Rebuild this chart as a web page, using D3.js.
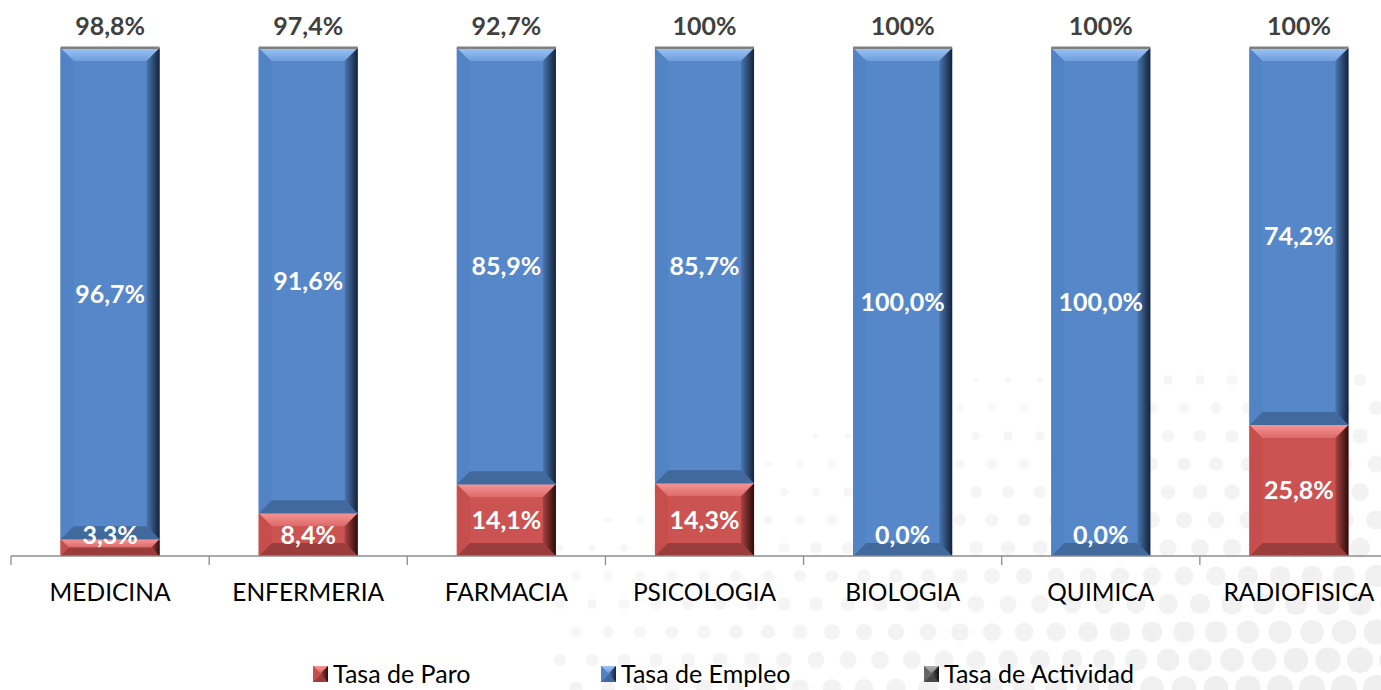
<!DOCTYPE html>
<html><head><meta charset="utf-8">
<script src="https://cdn.jsdelivr.net/npm/d3@7"></script>
<style>body{margin:0;background:#fff}svg{display:block}</style>
</head><body>
<svg id="chart" width="1381" height="690"></svg>
<script>
const categories = ["MEDICINA","ENFERMERIA","FARMACIA","PSICOLOGIA","BIOLOGIA","QUIMICA","RADIOFISICA"];
const tasaParo = [3.3, 8.4, 14.1, 14.3, 0.0, 0.0, 25.8];
const tasaEmpleo = [96.7, 91.6, 85.9, 85.7, 100.0, 100.0, 74.2];
const tasaActividad = ["98,8%","97,4%","92,7%","100%","100%","100%","100%"];
const seriesNames = ["Tasa de Paro","Tasa de Empleo","Tasa de Actividad"];

const svg = d3.select("#chart");
const W = 1381, H = 690;
const defs = svg.append("defs");

// decorative background dots
const bg = svg.append("g");
for (let gy = 380; gy < 720; gy += 28) {
  for (let gx = 560; gx < 1420; gx += 32) {
    const off = ((gy - 380) / 28) % 2 ? 16 : 0;
    const cx = gx + off, cy = gy;
    const t = Math.min(1, Math.max(0, ((cx - 750) / 700) * 0.55 + ((cy - 420) / 280) * 0.6));
    if (t <= 0.08) continue;
    bg.append("circle").attr("cx", cx).attr("cy", cy).attr("r", 2 + 11 * t)
      .attr("fill", "#e6e6e6").attr("opacity", 0.25 + 0.4 * t);
  }
}

const x = d3.scaleBand().domain(categories).range([11, 1398]).paddingInner(0.5).paddingOuter(0.25);
const y = d3.scaleLinear().domain([0, 100]).range([556, 48]);

function grad(id, stops, x2, y2) {
  const g = defs.append("linearGradient").attr("id", id).attr("x1", 0).attr("y1", 0).attr("x2", x2).attr("y2", y2);
  stops.forEach(s => g.append("stop").attr("offset", s[0]).attr("stop-color", s[1]));
}
const pal = {
  empleo: {base: "#5687c9", top: ["#6f9ddb", "#9cc4f5"], right: ["#4a76b0", "#14223a"], bottom: "#41699c", left: "#5283c4"},
  paro:   {base: "#cb5352", top: ["#dc6968", "#f59594"], right: ["#a84240", "#2a0d0c"], bottom: "#9a3d3c", left: "#c64f4e"},
  act:    {base: "#6e6e6e", top: ["#8a8a8a", "#b0b0b0"], right: ["#555", "#111"], bottom: "#474747", left: "#666"}
};
Object.entries(pal).forEach(([k, p]) => {
  grad("top-" + k, [[0, p.top[1]], [1, p.top[0]]], 0, 1);
  grad("right-" + k, [[0, p.right[0]], [1, p.right[1]]], 1, 0);
});

function bevelBar(g, x0, y0, w, h, key) {
  const p = pal[key];
  const b = Math.min(13, h / 2, w / 2);
  const x1 = x0 + w, y1 = y0 + h;
  g.append("rect").attr("x", x0).attr("y", y0).attr("width", w).attr("height", h).attr("fill", p.base);
  g.append("polygon").attr("points", [[x0, y0], [x1, y0], [x1 - b, y0 + b], [x0 + b, y0 + b]].join(" ")).attr("fill", `url(#top-${key})`);
  g.append("polygon").attr("points", [[x0, y1], [x1, y1], [x1 - b, y1 - b], [x0 + b, y1 - b]].join(" ")).attr("fill", p.bottom);
  g.append("polygon").attr("points", [[x0, y0], [x0 + b, y0 + b], [x0 + b, y1 - b], [x0, y1]].join(" ")).attr("fill", p.left);
  g.append("polygon").attr("points", [[x1, y0], [x1 - b, y0 + b], [x1 - b, y1 - b], [x1, y1]].join(" ")).attr("fill", `url(#right-${key})`);
}

const bars = svg.append("g");
categories.forEach((c, i) => {
  const bx = x(c), bw = x.bandwidth();
  const p = tasaParo[i], e = tasaEmpleo[i];
  if (p > 0) bevelBar(bars, bx, y(p), bw, y(0) - y(p), "paro");
  bevelBar(bars, bx, y(p + e), bw, y(p) - y(p + e), "empleo");
  bars.append("rect").attr("x", bx).attr("y", y(100) - 1.5).attr("width", bw).attr("height", 2.5).attr("fill", "#808080");
});

// axis
const axisY = y(0);
svg.append("line").attr("x1", 11).attr("x2", W).attr("y1", axisY).attr("y2", axisY).attr("stroke", "#8c8c8c").attr("stroke-width", 1.3);
const bounds = d3.range(categories.length + 1).map(i => 11 + i * x.step());
bounds.forEach(bx => {
  if (bx <= W) svg.append("line").attr("x1", bx).attr("x2", bx).attr("y1", axisY).attr("y2", axisY + 9).attr("stroke", "#8c8c8c").attr("stroke-width", 1.3);
});

const font = "Lato, 'Open Sans', sans-serif";
const labels = svg.append("g").attr("font-family", font);
categories.forEach((c, i) => {
  const cx = x(c) + x.bandwidth() / 2;
  labels.append("text").attr("x", cx).attr("y", 601).attr("text-anchor", "middle")
    .attr("font-size", 24.5).attr("fill", "#000").text(c);
  labels.append("text").attr("x", cx).attr("y", 35).attr("text-anchor", "middle")
    .attr("font-size", 25).attr("font-weight", "bold").attr("fill", "#404040").text(tasaActividad[i]);
  const p = tasaParo[i], e = tasaEmpleo[i];
  const fmt = v => v.toFixed(1).replace(".", ",") + "%";
  const ec = (y(p) + y(p + e)) / 2;
  labels.append("text").attr("x", cx).attr("y", ec).attr("dy", "0.36em").attr("text-anchor", "middle")
    .attr("font-size", 25).attr("font-weight", "bold").attr("fill", "#fff").text(fmt(e));
  const pc = Math.min((y(0) + y(p)) / 2, 535);
  labels.append("text").attr("x", cx).attr("y", pc).attr("dy", "0.36em").attr("text-anchor", "middle")
    .attr("font-size", 25).attr("font-weight", "bold").attr("fill", "#fff").text(fmt(p));
});

// legend
const legKeys = ["paro", "empleo", "act"];
const legX = [313, 601, 924];
const leg = svg.append("g").attr("font-family", font);
seriesNames.forEach((n, i) => {
  const g = leg.append("g");
  bevelBar(g, legX[i], 666, 15, 16, legKeys[i]);
  g.append("text").attr("x", legX[i] + 20).attr("y", 683).attr("font-size", 25).attr("fill", "#000").text(n);
});
</script>
</body></html>
